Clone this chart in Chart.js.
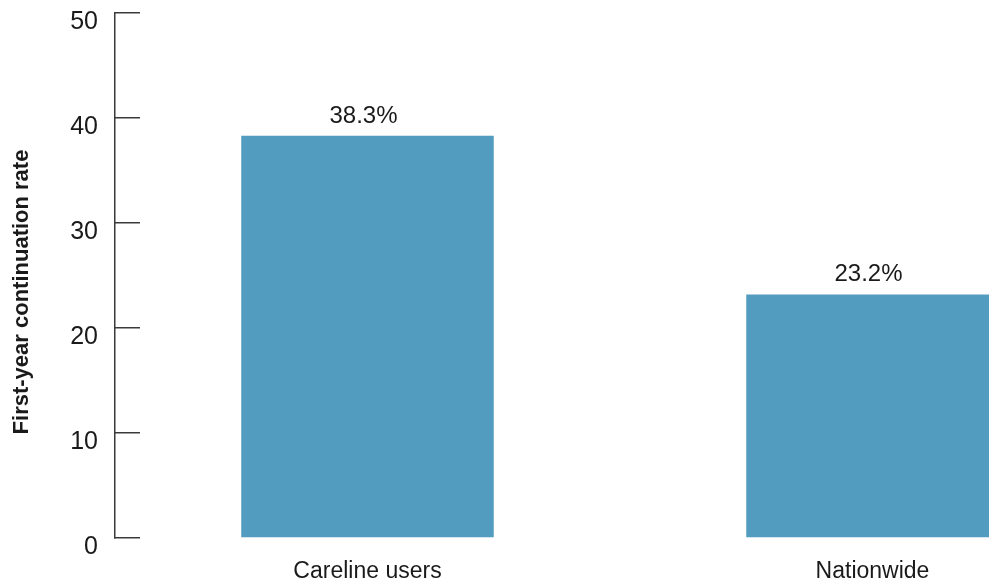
<!DOCTYPE html>
<html>
<head>
<meta charset="utf-8">
<script src="https://cdn.jsdelivr.net/npm/chart.js@4/dist/chart.umd.min.js"></script>
<style>
  html, body { margin: 0; padding: 0; background: #fff; overflow: hidden; }
  #wrap { width: 1130px; height: 588px; position: relative; }
</style>
</head>
<body>
<div id="wrap"><canvas id="chart"></canvas></div>
<script>
const categories = ['Careline users', 'Nationwide'];
const rates = [38.3, 23.2];
const rateLabels = ['38.3%', '23.2%'];
const yTicks = [0, 10, 20, 30, 40, 50];
const yTitle = 'First-year continuation rate';

const FONT = "'Liberation Sans Narrow', 'Arial Narrow', 'Liberation Sans', sans-serif";

// etiquetas encima de cada barra + título del eje Y
const extraText = {
  id: 'extraText',
  afterDatasetsDraw(chart) {
    const ctx = chart.ctx;
    const meta = chart.getDatasetMeta(0);
    ctx.save();
    ctx.font = '24px ' + FONT;
    ctx.fillStyle = '#1a1a1a';
    ctx.textAlign = 'center';
    ctx.textBaseline = 'alphabetic';
    meta.data.forEach((bar, i) => {
      ctx.fillText(rateLabels[i], bar.x - 4, bar.y - 13);
    });
    ctx.restore();

    ctx.save();
    ctx.font = 'bold 22px ' + FONT;
    ctx.fillStyle = '#1a1a1a';
    ctx.textAlign = 'center';
    ctx.textBaseline = 'middle';
    ctx.translate(22, 292);
    ctx.rotate(-Math.PI / 2);
    ctx.fillText(yTitle, 0, 0);
    ctx.restore();
  }
};

new Chart(document.getElementById('chart'), {
  type: 'bar',
  data: {
    labels: categories,
    datasets: [{
      data: rates,
      backgroundColor: '#529dbf',
      barPercentage: 0.5,
      categoryPercentage: 1
    }]
  },
  options: {
    responsive: true,
    maintainAspectRatio: false,
    animation: false,
    layout: { padding: { left: 0, right: 5, top: 13, bottom: 0 } },
    plugins: { legend: { display: false }, tooltip: { enabled: false } },
    scales: {
      x: {
        grid: { display: false, drawTicks: false },
        border: { display: false },
        ticks: { color: '#1a1a1a', font: { family: FONT, size: 23 }, padding: 20 },
        afterFit: scale => { scale.height = 50; }
      },
      y: {
        min: 0,
        max: 50,
        afterBuildTicks: scale => { scale.ticks = yTicks.map(v => ({ value: v })); },
        afterFit: scale => {
          scale.width = 115;
          scale.paddingTop = 0;
          scale.paddingBottom = 0;
        },
        border: { display: true, color: '#3a3a3a', width: 1.5 },
        grid: { drawOnChartArea: false, drawTicks: true, tickLength: -25, color: '#3a3a3a', lineWidth: 1.5 },
        ticks: { color: '#1a1a1a', font: { family: FONT, size: 25 }, padding: 42, labelOffset: 9 }
      }
    }
  },
  plugins: [extraText]
});
</script>
</body>
</html>
